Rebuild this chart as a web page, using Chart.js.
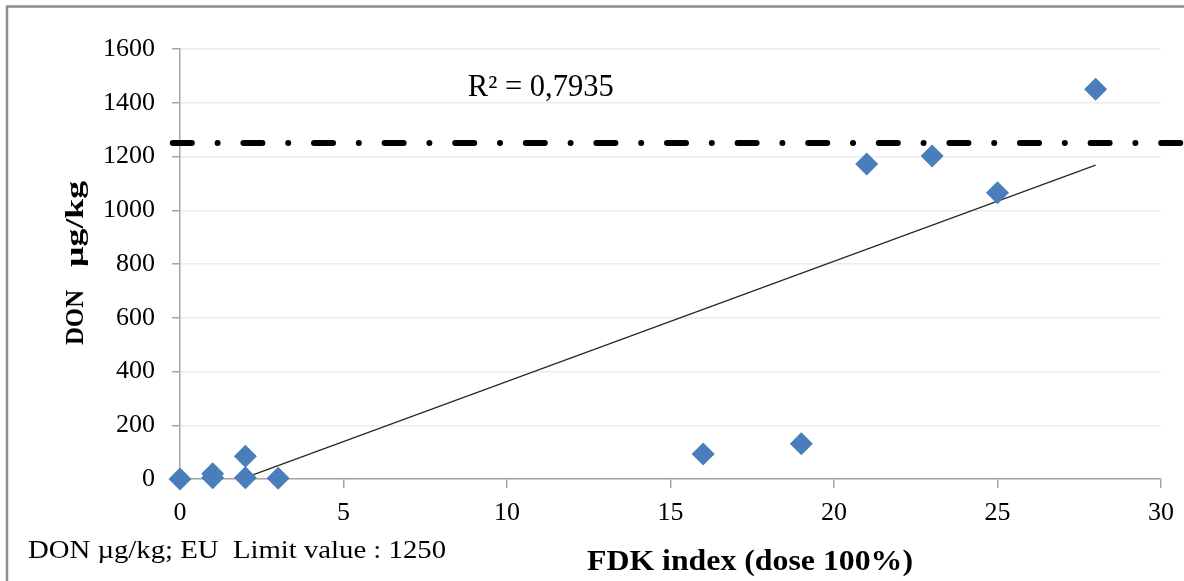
<!DOCTYPE html>
<html>
<head>
<meta charset="utf-8">
<script src="https://cdn.jsdelivr.net/npm/chart.js@4/dist/chart.umd.min.js"></script>
<style>
  html, body { margin: 0; padding: 0; background: #ffffff; }
  #wrap { width: 1184px; height: 581px; }
</style>
</head>
<body>
<div id="wrap"><canvas id="c" width="1184" height="581"></canvas></div>
<script>
// ---- data ----
const fdkIndex = [0, 1, 1, 2, 2, 3, 16, 19, 21, 23, 25, 28];
const donValues = [0, 20, 5, 85, 5, 3, 93, 131, 1172, 1202, 1065, 1450];
const trendX = [2, 28];
const trendY = [5, 1168];
const euLimit = 1250;
const euLineX = [-0.22, 31];
const r2Text = 'R² = 0,7935';
const yTickValues = [0, 200, 400, 600, 800, 1000, 1200, 1400, 1600];
const xTickValues = [0, 5, 10, 15, 20, 25, 30];
const yTitleParts = ['DON', 'µg/kg'];
const xTitle = 'FDK index (dose 100%)';
const footnote = 'DON µg/kg; EU  Limit value : 1250';

const scatterPts = fdkIndex.map((x, i) => ({ x: x, y: donValues[i] }));
const trendPts = trendX.map((x, i) => ({ x: x, y: trendY[i] }));
const euPts = euLineX.map(x => ({ x: x, y: euLimit }));

function drawScaled(ctx, text, x, y, font, targetW, rotate) {
  ctx.save();
  ctx.font = font;
  ctx.textAlign = 'left';
  ctx.textBaseline = 'alphabetic';
  const w = ctx.measureText(text).width;
  const s = targetW ? targetW / w : 1;
  ctx.translate(x, y);
  if (rotate) ctx.rotate(-Math.PI / 2);
  ctx.scale(s, 1);
  ctx.fillStyle = '#000';
  ctx.fillText(text, 0, 0);
  ctx.restore();
}

const decor = {
  id: 'decor',
  beforeDraw(chart) {
    const ctx = chart.ctx;
    ctx.save();
    ctx.fillStyle = '#fff';
    ctx.fillRect(0, 0, chart.width, chart.height);
    ctx.strokeStyle = '#8c8c8c';
    ctx.lineWidth = 2.5;
    ctx.beginPath();
    ctx.moveTo(7, 600);
    ctx.lineTo(7, 6.5);
    ctx.lineTo(1200, 6.5);
    ctx.stroke();
    ctx.restore();
  },
  afterDraw(chart) {
    const ctx = chart.ctx;
    const xs = chart.scales.x, ys = chart.scales.y;
    drawScaled(ctx, r2Text, xs.getPixelForValue(8.8), ys.getPixelForValue(1425),
      '31px "Liberation Serif"', 146, false);
    drawScaled(ctx, footnote, 28, 558, '25px "Liberation Serif"', 418, false);
    drawScaled(ctx, xTitle, 587, 570, 'bold 30px "Liberation Serif"', 326, false);
    drawScaled(ctx, yTitleParts[0], 83, 345, 'bold 26px "Liberation Serif"', 55, true);
    drawScaled(ctx, yTitleParts[1], 83, 267, 'bold 26px "Liberation Serif"', 86, true);
  }
};

const plainTick = v => String(v);

new Chart(document.getElementById('c'), {
  type: 'scatter',
  data: {
    datasets: [
      {
        label: 'EU limit',
        data: euPts,
        showLine: true,
        borderColor: '#000',
        borderWidth: 6,
        borderDash: [19, 25.8, 0, 25.8],
        borderCapStyle: 'round',
        pointRadius: 0,
        clip: false,
        order: 3
      },
      {
        label: 'Trend',
        data: trendPts,
        showLine: true,
        borderColor: '#262626',
        borderWidth: 1.2,
        pointRadius: 0,
        order: 2
      },
      {
        label: 'DON',
        data: scatterPts,
        pointStyle: 'rectRot',
        pointRadius: 11.5,
        pointHoverRadius: 11.5,
        backgroundColor: '#4a7ebb',
        borderColor: '#4a7ebb',
        borderWidth: 0,
        clip: false,
        order: 1
      }
    ]
  },
  options: {
    responsive: false,
    devicePixelRatio: 1,
    animation: false,
    events: [],
    layout: { padding: { left: 0, right: 23, top: 49, bottom: 0 } },
    plugins: { legend: { display: false }, tooltip: { enabled: false } },
    scales: {
      x: {
        type: 'linear',
        min: 0, max: 30,
        afterBuildTicks(scale) { scale.ticks = xTickValues.map(v => ({ value: v })); },
        afterFit(scale) { scale.height = 102; },
        grid: { drawOnChartArea: false, color: '#a6a6a6', tickColor: '#a6a6a6', tickLength: 9, lineWidth: 1.5 },
        border: { color: '#a6a6a6', width: 1.5 },
        ticks: { color: '#000', font: { family: 'Liberation Serif', size: 26 }, padding: 10, maxRotation: 0, callback: plainTick }
      },
      y: {
        type: 'linear',
        min: 0, max: 1600,
        afterBuildTicks(scale) { scale.ticks = yTickValues.map(v => ({ value: v })); },
        afterFit(scale) { scale.width = 180; },
        grid: { color: '#ececec', tickColor: '#a6a6a6', tickLength: 8, lineWidth: 1.5 },
        border: { color: '#a6a6a6', width: 1.5 },
        ticks: { color: '#000', font: { family: 'Liberation Serif', size: 26 }, padding: 17, callback: plainTick }
      }
    }
  },
  plugins: [decor]
});
</script>
</body>
</html>
